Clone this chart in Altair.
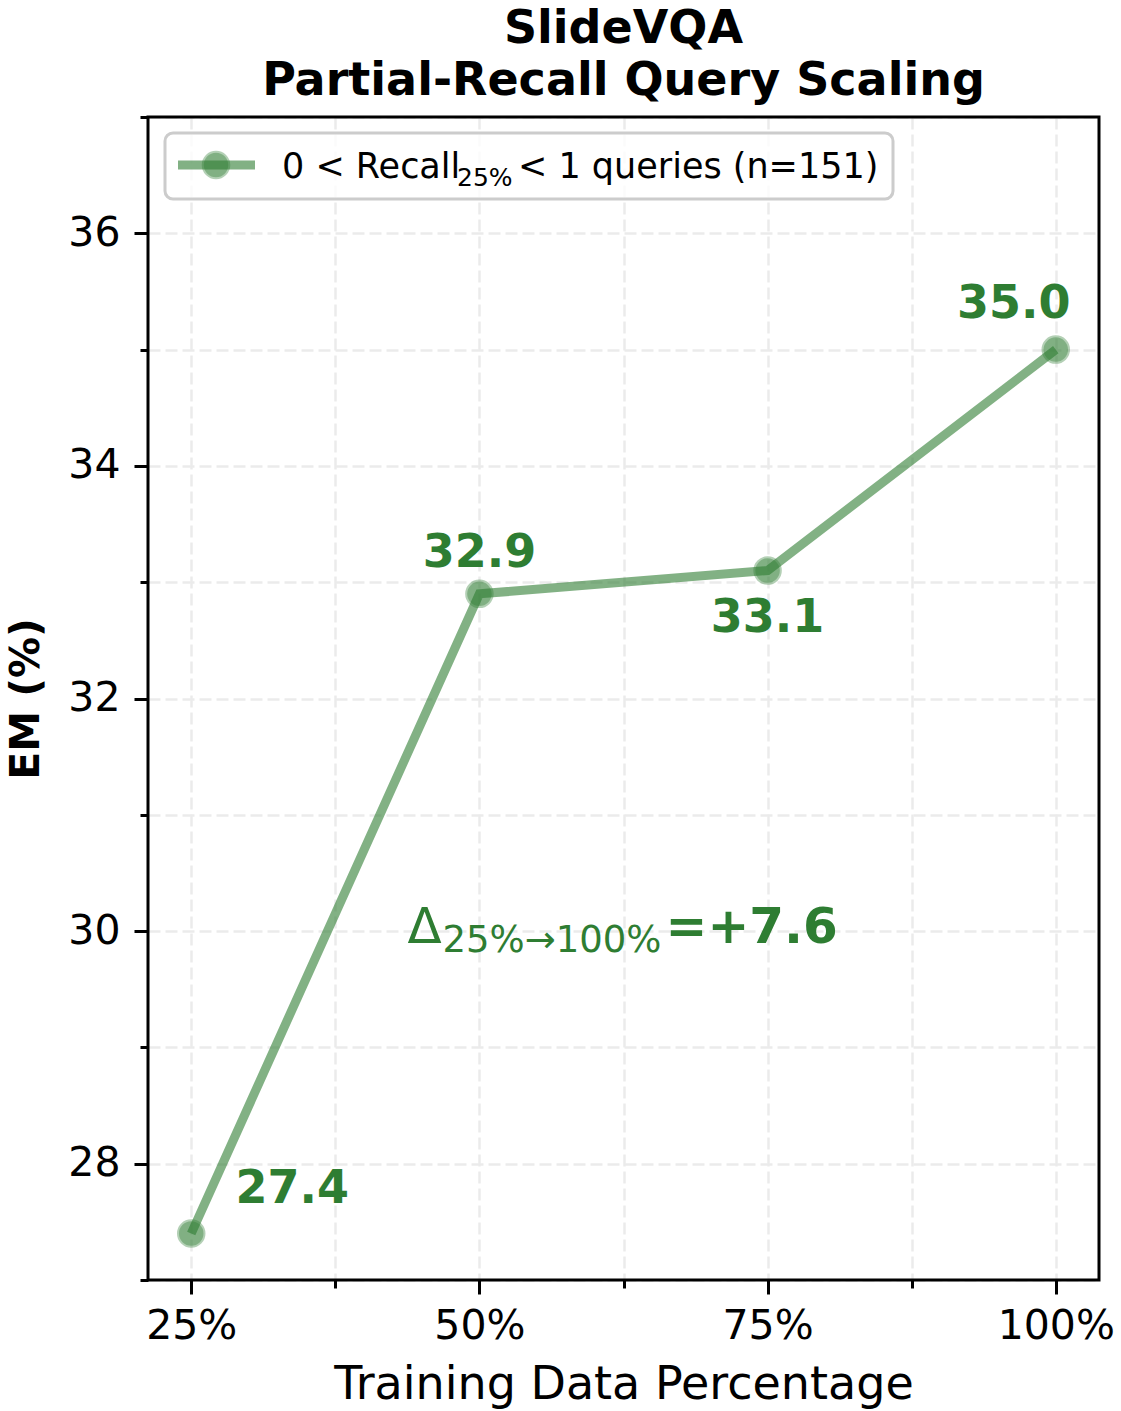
import altair as alt
import pandas as pd

# ---- data ----
pcts = [25, 50, 75, 100]
em = [27.4, 32.9, 33.1, 35.0]
x_ticks_all = [25, 37.5, 50, 62.5, 75, 87.5, 100]
y_ticks_all = [27, 28, 29, 30, 31, 32, 33, 34, 35, 36, 37]
series_name_a = "0 < Recall"
series_name_sub = "25%"
series_name_b = "< 1 queries (n=151)"
delta_val = em[-1] - em[0]
delta_anchor_x = [62.5]
delta_anchor_y = [30.0]

GREEN = "#2e7d32"
FONT = "DejaVu Sans"
GRID = "#ebebeb"

df = pd.DataFrame({"pct": pcts, "em": em})
df_delta = pd.DataFrame({"pct": delta_anchor_x, "em": delta_anchor_y,
                         "d": ["\u0394"], "sub": ["25%\u2192100%"],
                         "val": [f"=+{delta_val:.1f}"]})

W, H = 951, 1163

xenc = alt.X(
    "pct:Q",
    scale=alt.Scale(domain=[21.25, 103.75], nice=False, zero=False),
    axis=alt.Axis(
        values=x_ticks_all,
        labelExpr="datum.value % 25 == 0 ? datum.value + '%' : ''",
        tickSize={"condition": {"test": "datum.value % 25 == 0", "value": 14}, "value": 8},
        title="Training Data Percentage",
        titleFontSize=46, titleFontWeight="normal", titleFont=FONT, titlePadding=16,
        labelFontSize=41, labelFont=FONT, labelPadding=12, labelColor="black",
        labelOverlap=False, labelFlush=False,
        grid=True, gridDash=[12, 5], gridColor=GRID, gridWidth=2.5,
        tickColor="black", tickWidth=3, domain=False,
    ),
)
yenc = alt.Y(
    "em:Q",
    scale=alt.Scale(domain=[27, 37], nice=False, zero=False),
    axis=alt.Axis(
        values=y_ticks_all,
        labelExpr="datum.value % 2 == 0 ? datum.value : ''",
        tickSize={"condition": {"test": "datum.value % 2 == 0", "value": 14}, "value": 8},
        title="EM (%)",
        titleFontSize=41, titleFontWeight="bold", titleFont=FONT, titlePadding=20,
        labelFontSize=41, labelFont=FONT, labelPadding=14, labelColor="black",
        labelOverlap=False, labelFlush=False,
        grid=True, gridDash=[12, 5], gridColor=GRID, gridWidth=2.5,
        tickColor="black", tickWidth=3, domain=False,
    ),
)

base = alt.Chart(df).encode(x=xenc, y=yenc)

line = base.mark_line(color=GREEN, opacity=0.6, strokeWidth=9)
pts = base.mark_point(
    shape="circle", filled=True, size=600, color=GREEN, opacity=0.6,
    stroke=GREEN, strokeWidth=4, strokeOpacity=0.6,
)


def lab(p, dx, dy):
    return base.mark_text(
        font=FONT, fontSize=46, fontWeight="bold", color=GREEN,
        align="center", baseline="alphabetic", dx=dx, dy=dy,
    ).encode(text=alt.Text("em:Q", format=".1f")).transform_filter(alt.datum.pct == p)


labels = [lab(25, 101, -30), lab(50, 0, -27), lab(75, 0, 61), lab(100, -42, -32)]

dbase = alt.Chart(df_delta).encode(x=xenc, y=yenc)
d1 = dbase.mark_text(font=FONT, fontSize=50, color=GREEN, align="left",
                     baseline="alphabetic", dx=-216, dy=12).encode(text="d:N")
d2 = dbase.mark_text(font=FONT, fontSize=37, color=GREEN, align="left",
                     baseline="alphabetic", dx=-181, dy=21).encode(text="sub:N")
d3 = dbase.mark_text(font=FONT, fontSize=50, fontWeight="bold", color=GREEN,
                     align="left", baseline="alphabetic", dx=42, dy=12).encode(text="val:N")

one = df.head(1)
# ---- frame (all four spines) ----
frame = alt.Chart(one).mark_rect(fill=None, stroke="black", strokeWidth=3).encode(
    x=alt.value(0), x2=alt.value(W), y=alt.value(0), y2=alt.value(H)
)

# ---- legend (guide drawn by hand because of the subscript) ----
leg_box = alt.Chart(one).mark_rect(
    fill="white", fillOpacity=0.8, stroke="#cccccc", strokeWidth=3, cornerRadius=8
).encode(x=alt.value(17), x2=alt.value(745), y=alt.value(16), y2=alt.value(82))
leg_line = alt.Chart(one).mark_rule(
    color=GREEN, opacity=0.6, strokeWidth=9
).encode(x=alt.value(30), x2=alt.value(107), y=alt.value(48))
leg_pt = alt.Chart(one).mark_point(
    shape="circle", filled=True, size=600, color=GREEN, opacity=0.6,
    stroke=GREEN, strokeWidth=4, strokeOpacity=0.6,
).encode(x=alt.value(68), y=alt.value(48))
leg_t1 = alt.Chart(one).mark_text(
    font=FONT, fontSize=35, color="black", align="left", baseline="alphabetic", text=series_name_a
).encode(x=alt.value(134), y=alt.value(61))
leg_t2 = alt.Chart(one).mark_text(
    font=FONT, fontSize=25, color="black", align="left", baseline="alphabetic", text=series_name_sub
).encode(x=alt.value(309), y=alt.value(69))
leg_t3 = alt.Chart(one).mark_text(
    font=FONT, fontSize=35, color="black", align="left", baseline="alphabetic", text=series_name_b
).encode(x=alt.value(370), y=alt.value(61))

chart = alt.layer(
    line, pts, *labels, d1, d2, d3, frame, leg_box, leg_line, leg_pt, leg_t1, leg_t2, leg_t3
).properties(
    width=W, height=H,
    title=alt.TitleParams(
        ["SlideVQA", "Partial-Recall Query Scaling"], fontSize=46, font=FONT,
        fontWeight="bold", lineHeight=52, anchor="middle", color="black",
        baseline="bottom", offset=-55,
    ),
    autosize=alt.AutoSizeParams(type="none"),
    padding={"left": 148, "top": 117, "right": 22, "bottom": 131},
).configure_view(strokeWidth=0).configure(background="white")

chart.save("out.html", embed_options={"renderer": "svg", "actions": False})
